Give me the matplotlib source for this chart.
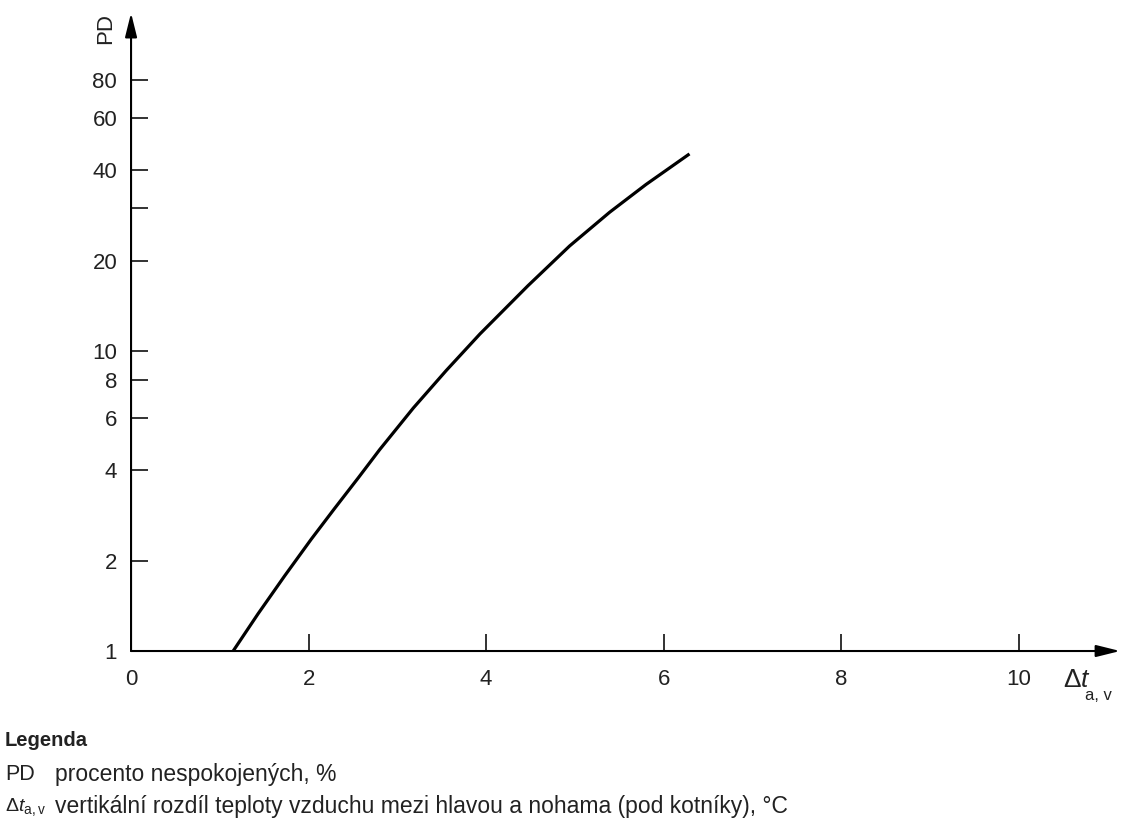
import matplotlib
matplotlib.use("Agg")
import matplotlib.pyplot as plt
from matplotlib import font_manager

# curve
dt = [1.15, 1.43, 1.73, 2.03, 2.29, 2.56, 2.80, 3.18, 3.55, 3.93,
      4.47, 4.94, 5.39, 5.80, 6.29]
pd_vals = [1.0, 1.33, 1.78, 2.36, 2.98, 3.78, 4.69, 6.46, 8.61, 11.4,
           16.5, 22.4, 29.0, 35.9, 45.4]

x_ticks = [0, 2, 4, 6, 8, 10]
y_ticks = [1, 2, 4, 6, 8, 10, 20, 30, 40, 60, 80]
y_labels = ["1", "2", "4", "6", "8", "10", "20", "", "40", "60", "80"]

names = {f.name for f in font_manager.fontManager.ttflist}
narrow = "Liberation Sans Narrow" if "Liberation Sans Narrow" in names else "Liberation Sans"

plt.rcParams["font.family"] = ["Liberation Sans", "DejaVu Sans"]
plt.rcParams["mathtext.fontset"] = "custom"
plt.rcParams["mathtext.rm"] = "Liberation Sans"
plt.rcParams["mathtext.it"] = "Liberation Sans:italic"

fig = plt.figure(figsize=(11.22, 8.27), dpi=100)
ax = fig.add_axes([0.1168, 0.2128, 0.8815, 0.7715])

ax.plot(dt, pd_vals, color="black", lw=2.3, solid_capstyle="butt",
        solid_joinstyle="round")

ax.set_yscale("log")
ax.set_xlim(0, 11.14)
ax.set_ylim(1, 133.9)
ax.set_xticks(x_ticks)
ax.set_xticklabels([str(v) for v in x_ticks])
ax.set_yticks(y_ticks)
ax.set_yticklabels(y_labels)
ax.minorticks_off()
ax.tick_params(direction="in", length=12, width=1.3, labelsize=16, color="#222222",
               labelcolor="#222222")
ax.tick_params(axis="x", pad=13)
ax.tick_params(axis="y", pad=10)

for s in ax.spines.values():
    s.set_visible(False)

# axes with arrow heads
arrow = dict(arrowstyle="-|>,head_length=1.45,head_width=0.36", color="black",
             lw=1.5, shrinkA=0, shrinkB=0)
ax.annotate("", xy=(1, 0), xycoords="axes fraction", xytext=(0, 0),
            textcoords="axes fraction", arrowprops=arrow)
ax.annotate("", xy=(0, 1), xycoords="axes fraction", xytext=(0, 0),
            textcoords="axes fraction", arrowprops=arrow)

ax.text(-0.0253, 0.975, "PD", transform=ax.transAxes, rotation=90,
        fontsize=16, ha="center", va="center", color="#222222")
ax.text(0.942, -0.0564, r"$\Delta t$", transform=ax.transAxes,
        fontsize=19, ha="left", va="baseline", color="#222222")
ax.text(0.9646, -0.0768, "a, v", transform=ax.transAxes,
        fontsize=12, ha="left", va="baseline", color="#222222")

# legend text below the chart
fig.text(5 / 1122, 1 - 741 / 827, "Legenda", fontsize=14.5, fontweight="bold",
         family=narrow, va="center", color="#222222")
fig.text(5 / 1122, 1 - 774 / 827, "PD", fontsize=15.5, family=narrow, va="center",
         color="#222222")
fig.text(55 / 1122, 1 - 774 / 827, "procento nespokojených, %", fontsize=16.5,
         family=narrow, va="center", color="#222222")
fig.text(5 / 1122, 1 - 807 / 827, r"$\Delta t_{\mathrm{a,v}}$", fontsize=14,
         va="center", color="#222222")
fig.text(55 / 1122, 1 - 807 / 827,
         "vertikální rozdíl teploty vzduchu mezi hlavou a nohama (pod kotníky), °C",
         fontsize=16.5, family=narrow, va="center", color="#222222")

fig.savefig("out.png", dpi=100)
